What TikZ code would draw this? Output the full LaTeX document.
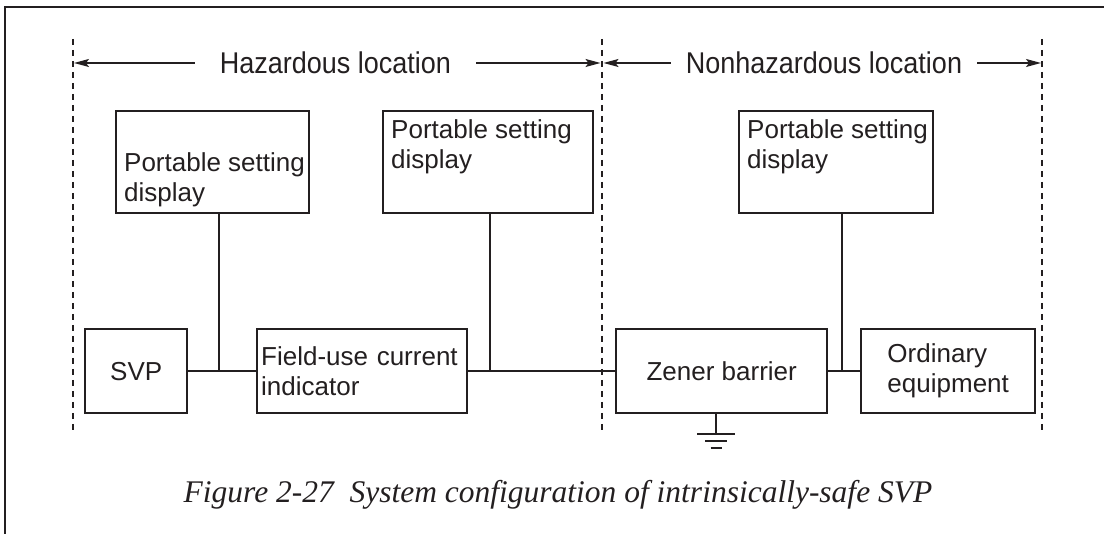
\documentclass[tikz,border=0pt]{standalone}
\usepackage{fontspec}
\setmainfont{Liberation Sans}
\newfontfamily\headfont[FakeStretch=0.9]{Liberation Sans}
\newfontfamily\captfont{Liberation Serif}
\usetikzlibrary{arrows.meta,positioning}
\definecolor{svInk}{RGB}{35,31,32}

\begin{document}
\begin{tikzpicture}[
  x=1pt,y=1pt,
  color=svInk,
  font=\fontsize{26}{30}\selectfont,
  box/.style={rectangle,draw=svInk,line width=2.4pt,inner sep=0pt,
              anchor=north west},
  boxtext/.style={align=left,inner sep=0pt,anchor=north west},
  wire/.style={line width=2.4pt},
  zoneline/.style={line width=2.7pt,dash pattern=on 6pt off 5pt},
  span/.style={-{Stealth[length=15pt,width=8pt,inset=3pt]},line width=1.3pt},
  head/.style={font=\headfont\fontsize{30}{34}\selectfont,inner ysep=0pt}
]
\useasboundingbox (0,0) rectangle (1104,534);
% Geometry: y measured up from the bottom edge, 1pt = 1px.
\def\psdTop{424}    % top of the portable setting displays
\def\psdH{102}
\def\rowTop{206}    % top of the main row
\def\rowH{84}
\def\busY{164}      % signal line
\def\zoneTop{495}
\def\zoneBot{100}
\def\headY{471}

% frame (top and left only)
\draw[line width=2.4pt] (5,0) -- (5,527) -- (1104,527);

% --- Zone boundaries
\foreach \x/\n in {73/zA,602/zB,1042/zC}{
  \coordinate (\n t) at (\x,\zoneTop);
  \coordinate (\n b) at (\x,\zoneBot);
  \draw[zoneline] (\n t) -- (\n b);
}

% --- Zone headings
\node[head,inner xsep=25pt] (hz) at (335.5,\headY) {Hazardous location};
\node[head,inner xsep=15pt] (nh) at (824,\headY) {Nonhazardous location};
\draw[span,shorten >=1pt] (hz.west) -- (hz.west -| zAt);
\draw[span,shorten >=1.5pt] (hz.east) -- (hz.east -| zBt);
\draw[span,shorten >=1.5pt] (nh.west) -- (nh.west -| zBt);
\draw[span,shorten >=1pt] (nh.east) -- (nh.east -| zCt);

% --- Portable setting displays
\node[box,minimum width=193pt,minimum height=\psdH pt] (psdA) at (115,\psdTop) {};
\node[boxtext] at ([xshift=9pt,yshift=-42pt] psdA.north west)
     {Portable setting\\display};
\node[box,minimum width=210pt,minimum height=\psdH pt] (psdB) at (382,\psdTop) {};
\node[boxtext] at ([xshift=9pt,yshift=-9pt] psdB.north west)
     {Portable setting\\display};
\node[box,minimum width=194pt,minimum height=\psdH pt] (psdC) at (738,\psdTop) {};
\node[boxtext] at ([xshift=9pt,yshift=-9pt] psdC.north west)
     {Portable setting\\display};

% --- Main row
\node[box,minimum width=102pt,minimum height=\rowH pt] (svp) at (84,\rowTop) {SVP};
\node[box,minimum width=210pt,minimum height=\rowH pt,align=left,
      text width=202pt,inner xsep=4pt] (fld) at (256,\rowTop)
     {Field-use current\\indicator};
\node[box,minimum width=211pt,minimum height=\rowH pt] (zen) at (615,\rowTop)
     {Zener barrier};
\node[box,minimum width=174pt,minimum height=\rowH pt,align=left] (ord)
     at (860,\rowTop) {Ordinary\\equipment};

\draw[wire] (svp) -- (fld);
\draw[wire] (fld) -- (zen);
\draw[wire] (zen) -- (ord);

% taps from the displays
\coordinate (tapA) at (219,\busY);
\coordinate (tapB) at (490,\busY);
\coordinate (tapC) at (842,\busY);
\draw[wire] (tapA |- psdA.south) -- (tapA);
\draw[wire] (tapB |- psdB.south) -- (tapB);
\draw[wire] (tapC |- psdC.south) -- (tapC);

% earth on the barrier
\coordinate (gnd) at (716,100);
\draw[wire] (gnd |- zen.south) -- (gnd);
\draw[wire] ([xshift=-19pt] gnd) -- ([xshift=19pt] gnd);
\draw[wire] ([xshift=-11pt,yshift=-7pt] gnd) -- ([xshift=11pt,yshift=-7pt] gnd);
\draw[wire] ([xshift=-5.5pt,yshift=-14pt] gnd) -- ([xshift=5.5pt,yshift=-14pt] gnd);

% --- Caption
\node[font=\captfont\itshape\fontsize{31.5}{36}\selectfont,anchor=base,inner sep=0pt]
     (cap) at (558,31)
     {Figure 2-27\hspace{0.5em}System configuration of intrinsically-safe SVP};
\end{tikzpicture}
\end{document}
